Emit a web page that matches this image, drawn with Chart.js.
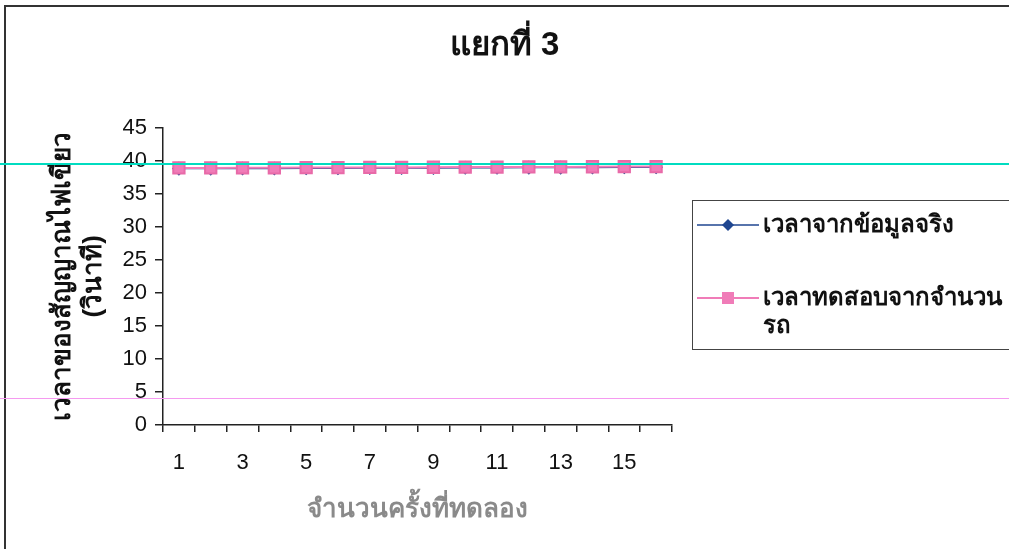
<!DOCTYPE html>
<html>
<head>
<meta charset="utf-8">
<script src="https://cdn.jsdelivr.net/npm/chart.js@4"></script>
<style>
  html, body { margin: 0; padding: 0; background: #fff; }
  #wrap { position: relative; width: 1009px; height: 549px; overflow: hidden; }
  #frame { position: absolute; left: 4px; top: 5px; width: 1100px; height: 700px; border: 2px solid #333; box-sizing: border-box; }
  #legend { position: absolute; left: 692px; top: 200px; width: 400px; height: 150px; border: 1.5px solid #444; box-sizing: border-box;
            font-family: "Liberation Sans", Arial, sans-serif; font-weight: bold; font-size: 24px; color: #111; }
  .item { position: absolute; left: 4px; display: flex; align-items: flex-start; }
  .item canvas { margin-top: 3px; }
  .item span { margin-left: 4px; line-height: 28px; width: 244px; }
  .scan { position: absolute; left: 0; width: 1009px; height: 1px; z-index: 5; }
</style>
</head>
<body>
<div id="wrap">
  <div id="frame"></div>
  <canvas id="grafico" width="1009" height="549" style="position:absolute;left:0;top:0"></canvas>
  <div id="legend"></div>
  <div class="scan" style="top:163px;background:#00dcc0;height:2px"></div>
  <div class="scan" style="top:398px;background:#f59af0"></div>
</div>
<script>
// dados
const rodadas = ["1","2","3","4","5","6","7","8","9","10","11","12","13","14","15","16"];
const tempoReal = [38.8, 38.8, 38.82, 38.82, 38.85, 38.85, 38.88, 38.88, 38.9, 38.92, 38.92, 38.95, 38.95, 38.98, 39.0, 39.0];
const tempoTeste = [38.9, 38.9, 38.92, 38.92, 38.95, 38.95, 38.98, 38.98, 39.0, 39.02, 39.02, 39.05, 39.05, 39.08, 39.1, 39.1];
const nomesSeries = ["เวลาจากข้อมูลจริง", "เวลาทดสอบจากจำนวนรถ"];
const tituloGrafico = "แยกที่ 3";
const tituloX = "จำนวนครั้งที่ทดลอง";
const tituloY = ["เวลาของสัญญาณไฟเขียว", "(วินาที)"];

const fonte = '"Liberation Sans", Arial, sans-serif';
const azul = '#1f4690';
const rosa = '#f07cb8';

const ctx = document.getElementById('grafico').getContext('2d');
const grafico = new Chart(ctx, {
    type: 'line',
    data: {
        labels: rodadas,
        datasets: [
            { label: nomesSeries[0], data: tempoReal, borderColor: azul, backgroundColor: azul, order: 1,
              borderWidth: 1.5, pointStyle: 'rectRot', pointRadius: 6, pointBorderColor: azul, pointBackgroundColor: azul },
            { label: nomesSeries[1], data: tempoTeste, borderColor: rosa, backgroundColor: rosa, order: 0,
              borderWidth: 2, pointStyle: 'rect', pointRadius: 8, pointBorderColor: '#e86aa8', pointBackgroundColor: rosa }
        ]
    },
    options: {
        responsive: false,
        animation: false,
        layout: { padding: 0 },
        plugins: {
            legend: { display: false },
            tooltip: { enabled: false },
            title: {
                display: true, text: tituloGrafico, color: '#111',
                font: { family: fonte, size: 33, weight: 'bold' },
                padding: { top: 26, bottom: 62 }
            }
        },
        scales: {
            x: {
                offset: true,
                grid: { offset: true, drawOnChartArea: false, drawTicks: true, tickLength: 7, color: '#222', lineWidth: 1.5 },
                border: { color: '#222', width: 1.5 },
                ticks: {
                    autoSkip: false, maxRotation: 0, color: '#111', padding: 18,
                    font: { family: fonte, size: 22 },
                    callback: (v, i) => (i % 2 === 0 ? rodadas[i] : '')
                },
                title: { display: true, text: tituloX, color: '#8a8a8a', font: { family: fonte, size: 26, weight: 'bold' }, padding: { top: 4, bottom: 24 } },
                afterFit: s => { s.height = 124; }
            },
            y: {
                min: 0, max: 45,
                grid: { drawOnChartArea: false, drawTicks: true, tickLength: 8, color: '#222', lineWidth: 1.5 },
                border: { color: '#222', width: 1.5 },
                ticks: { stepSize: 5, color: '#111', padding: 8, font: { family: fonte, size: 22 } },
                title: { display: true, text: tituloY, color: '#111', font: { family: fonte, size: 26, weight: 'bold' }, padding: { top: 47, bottom: 0 } },
                afterFit: s => { s.width = 163; }
            },
            // espaço reservado para a legenda à direita
            espaco: {
                type: 'linear', position: 'right', display: true,
                grid: { display: false }, border: { display: false }, ticks: { display: false },
                afterFit: s => { s.width = 337; }
            }
        }
    }
});

// legenda em HTML com as amostras desenhadas
const legendaDiv = document.getElementById('legend');
const posLegenda = [9, 82];
grafico.data.datasets.forEach((ds, i) => {
    const item = document.createElement('div');
    item.className = 'item';
    item.style.top = posLegenda[i] + 'px';
    const amostra = document.createElement('canvas');
    amostra.width = 62; amostra.height = 24;
    const c = amostra.getContext('2d');
    c.strokeStyle = ds.borderColor; c.lineWidth = ds.borderWidth;
    c.beginPath(); c.moveTo(0, 12); c.lineTo(62, 12); c.stroke();
    c.fillStyle = ds.pointBackgroundColor;
    c.beginPath();
    if (ds.pointStyle === 'rectRot') {
        c.moveTo(31, 6); c.lineTo(37, 12); c.lineTo(31, 18); c.lineTo(25, 12);
    } else {
        c.rect(25, 6, 12, 12);
    }
    c.fill();
    item.appendChild(amostra);
    const txt = document.createElement('span');
    txt.textContent = ds.label;
    item.appendChild(txt);
    legendaDiv.appendChild(item);
});
</script>
</body>
</html>
